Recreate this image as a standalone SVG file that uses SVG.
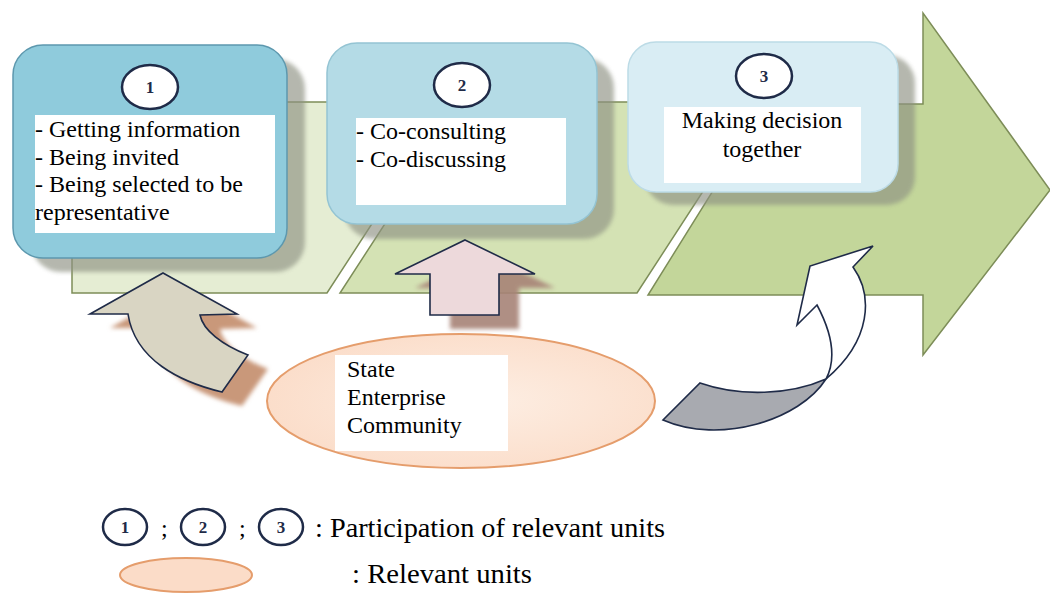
<svg xmlns="http://www.w3.org/2000/svg" width="1050" height="594" viewBox="0 0 1050 594">
<defs>
<style>
.seg{stroke:#7d8d58;stroke-width:1.5;stroke-linejoin:miter}
.shadow{fill:#8e9283;opacity:0.65}
.num{fill:#fff;stroke:#1f2b48;stroke-width:2.5}
.numt{font-family:"Liberation Serif",serif;font-weight:bold;font-size:17px;fill:#1f2b48;text-anchor:middle}
.t{font-family:"Liberation Serif",serif;font-size:24px;fill:#000}
.lt{font-family:"Liberation Serif",serif;font-size:27px;fill:#000}
.tb{fill:#fff}
.ol{stroke:#1f2b48;stroke-width:1.6;stroke-linejoin:miter}
</style>
<filter id="blur" x="-10%" y="-10%" width="120%" height="120%"><feGaussianBlur stdDeviation="2"/></filter>
<radialGradient id="peach" cx="0.55" cy="0.5" r="0.6"><stop offset="0" stop-color="#fdeee3"/><stop offset="1" stop-color="#fbdcc8"/></radialGradient>
</defs>
<rect width="1050" height="594" fill="#fff"/>

<g id="process-arrow">
<polygon class="seg" fill="#e5edd3" points="72,102 451,102 327,293 72,293"/>
<polygon class="seg" fill="#d4e2b4" points="464,102 761,102 637,293 340,293"/>
<polygon class="seg" fill="#c3d69a" points="767,104 923,104 923,13 1050,190 923,355 923,295 648,295"/>
</g>

<g id="step1">
<rect class="shadow" x="31" y="59" width="274" height="213" rx="30" filter="url(#blur)"/>
<rect x="13" y="45" width="274" height="213" rx="30" fill="#8fcbdc" stroke="#5d98ae" stroke-width="1.5"/>
<ellipse class="num" cx="150" cy="87" rx="28" ry="22"/>
<text class="numt" x="150" y="93">1</text>
<rect class="tb" x="35" y="115" width="240" height="118"/>
<text class="t" x="35" y="137">- Getting information</text>
<text class="t" x="35" y="164.5">- Being invited</text>
<text class="t" x="35" y="192">- Being selected to be</text>
<text class="t" x="35" y="219.5">representative</text>
</g>

<g id="step2">
<rect class="shadow" x="344" y="58" width="270" height="181" rx="30" filter="url(#blur)"/>
<rect x="327" y="43" width="270" height="181" rx="30" fill="#b4dbe6" stroke="#94c4d3" stroke-width="1.5"/>
<ellipse class="num" cx="462" cy="85" rx="28" ry="22"/>
<text class="numt" x="462" y="91">2</text>
<rect class="tb" x="356" y="118" width="210" height="87"/>
<text class="t" x="356" y="139">- Co-consulting</text>
<text class="t" x="356" y="167">- Co-discussing</text>
</g>

<g id="step3">
<rect class="shadow" x="645" y="55" width="270" height="150" rx="28" filter="url(#blur)"/>
<rect x="628" y="42" width="270" height="150" rx="28" fill="#d9edf4" stroke="#bcdbe6" stroke-width="1.5"/>
<ellipse class="num" cx="764" cy="76" rx="28" ry="22"/>
<text class="numt" x="764" y="82">3</text>
<rect class="tb" x="664" y="107" width="197" height="76"/>
<text class="t" x="762" y="128" text-anchor="middle">Making decision</text>
<text class="t" x="762" y="157" text-anchor="middle">together</text>
</g>

<g id="connectors">
<g id="arrow-to-step1">
<path d="M163,273 L237,314 L200,315 C203,330 222,345 248,355 L222,392 C180,382 135,360 128,314 L90,314 Z" transform="translate(20,14)" fill="#c9987a" filter="url(#blur)"/>
<path class="ol" d="M163,273 L237,314 L200,315 C203,330 222,345 248,355 L222,392 C180,382 135,360 128,314 L90,314 Z" fill="#d9d5c3"/>
</g>
<g id="arrow-to-step2">
<polygon points="465,240 535,274 499,274 499,315 430,315 430,274 395,274" transform="translate(20,14)" fill="#a78377" opacity="0.9" filter="url(#blur)"/>
<polygon class="ol" points="465,240 535,274 499,274 499,315 430,315 430,274 395,274" fill="#edd9db"/>
</g>
<g id="arrow-to-step3">
<path class="ol" d="M700,383 C740,397 790,395 826,379 C800,420 720,445 663,420 Z" fill="#a8aab0"/>
<path class="ol" d="M826,379 C836,360 833,335 817,305 L797,325 L810,266 L873,246 L853,267 C873,295 872,340 826,379 Z" fill="#fff"/>
</g>
</g>

<g id="units">
<ellipse cx="461" cy="401" rx="194" ry="67" fill="url(#peach)" stroke="#e59d6c" stroke-width="2"/>
<rect class="tb" x="335" y="355" width="173" height="96"/>
<text class="t" x="347" y="377">State</text>
<text class="t" x="347" y="405">Enterprise</text>
<text class="t" x="347" y="433">Community</text>
</g>

<g id="legend">
<ellipse class="num" cx="125" cy="527" rx="22" ry="18"/>
<text class="numt" x="125" y="533">1</text>
<text class="t" x="161" y="536" fill="#555">;</text>
<ellipse class="num" cx="203" cy="527" rx="22" ry="18"/>
<text class="numt" x="203" y="533">2</text>
<text class="t" x="239" y="536" fill="#555">;</text>
<ellipse class="num" cx="281" cy="527" rx="22" ry="18"/>
<text class="numt" x="281" y="533">3</text>
<text class="lt" x="315" y="537" textLength="350" lengthAdjust="spacingAndGlyphs">: Participation of relevant units</text>
<ellipse cx="186" cy="575" rx="66" ry="17" fill="#fbdcc8" stroke="#e59d6c" stroke-width="2"/>
<text class="lt" x="352" y="583" textLength="180" lengthAdjust="spacingAndGlyphs">: Relevant units</text>
</g>
</svg>
